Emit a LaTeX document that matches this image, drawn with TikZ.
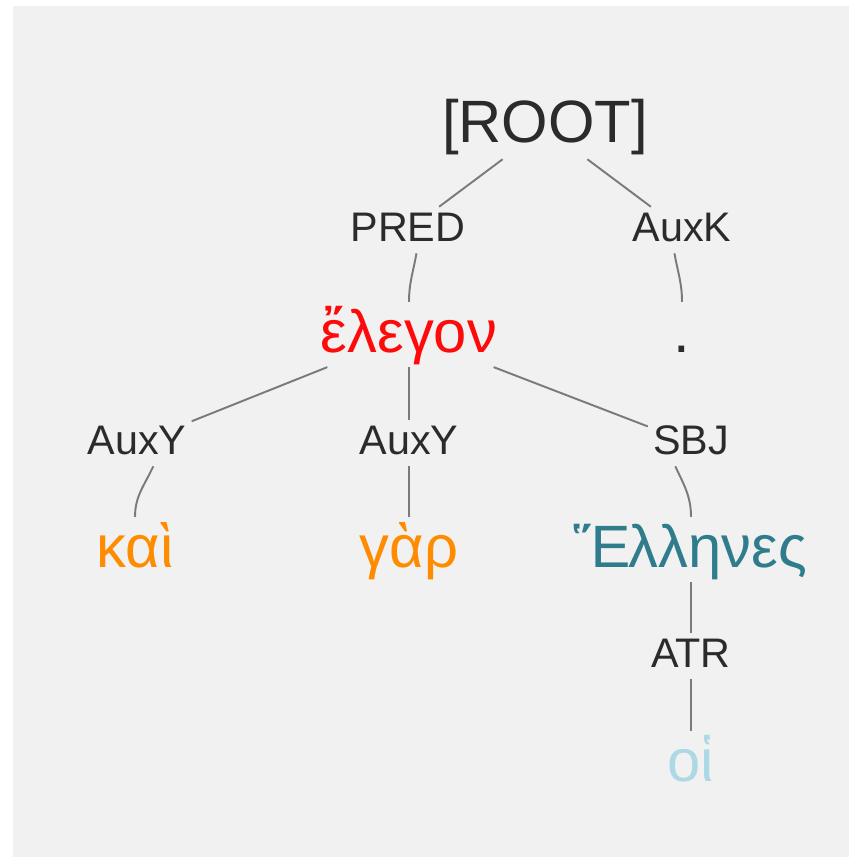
\documentclass[tikz,border=0pt]{standalone}
\usepackage{fontspec}
\setmainfont{Liberation Sans}
\definecolor{bggray}{HTML}{F1F1F1}
\definecolor{edgegray}{HTML}{7A7A7A}
\definecolor{labelink}{HTML}{2B2B2B}
\definecolor{predred}{HTML}{FF0A0A}
\definecolor{auxorange}{HTML}{FF8C00}
\definecolor{sbjteal}{HTML}{2F7D8C}
\definecolor{atrblue}{HTML}{ADD8E6}
\begin{document}
\begin{tikzpicture}[
    word/.style={anchor=base, inner sep=2.85pt, text height=26pt, text depth=5pt,
      font=\fontsize{34}{40}\selectfont},
    deprel/.style={anchor=base, inner sep=2.85pt, text height=17pt, text depth=3.4pt,
      text=labelink, font=\fontsize{23.5}{28}\selectfont},
    link/.style={draw=edgegray, line width=1.1pt}
  ]
    \useasboundingbox (0,0) rectangle (16.98,17.14);
    \fill[bggray] (0.26,0) rectangle (16.98,17.02);

    \node[anchor=base, inner sep=2pt, text=labelink, font=\fontsize{34}{40}\selectfont] (root) at (10.9,14.28) {[ROOT]};

    \node[deprel] (pred) at (8.16,12.30) {PRED};
    \node[deprel] (auxk) at (13.64,12.30) {AuxK};

    \node[word, text=predred] (elegon) at (8.18,10.08) {ἔλεγον};
    \node[word, text=labelink] (dot) at (13.64,10.08) {.};

    \node[deprel] (auxy1) at (2.74,8.04) {AuxY};
    \node[deprel] (auxy2) at (8.18,8.04) {AuxY};
    \node[deprel] (sbj) at (13.82,8.04) {SBJ};

    \node[word, text=auxorange] (kai) at (2.70,5.78) {καὶ};
    \node[word, text=auxorange] (gar) at (8.18,5.78) {γὰρ};
    \node[word, text=sbjteal] (hellenes) at (13.80,5.78) {Ἕλληνες};

    \node[deprel] (atr) at (13.82,3.78) {ATR};
    \node[word, text=atrblue] (hoi) at (13.82,1.50) {οἱ};

    \draw[link] (root) -- (pred);
    \draw[link] (root) -- (auxk);
    \draw[link] (pred.-70) to[out=-100,in=90] (elegon.north);
    \draw[link] (auxk.-108) to[out=-80,in=90] (dot.north);
    \draw[link] (elegon) -- (auxy1);
    \draw[link] (elegon.south) -- (auxy2.north);
    \draw[link] (elegon) -- (sbj);
    \draw[link] (auxy1.-55) to[out=-115,in=90] (kai.north);
    \draw[link] (auxy2.south) -- (gar.north);
    \draw[link] (sbj.-124) to[out=-65,in=90] (hellenes.north -| sbj);
    \draw[link] (hellenes.south -| atr) -- (atr.north);
    \draw[link] (atr.south) -- (hoi.north);
\end{tikzpicture}
\end{document}
